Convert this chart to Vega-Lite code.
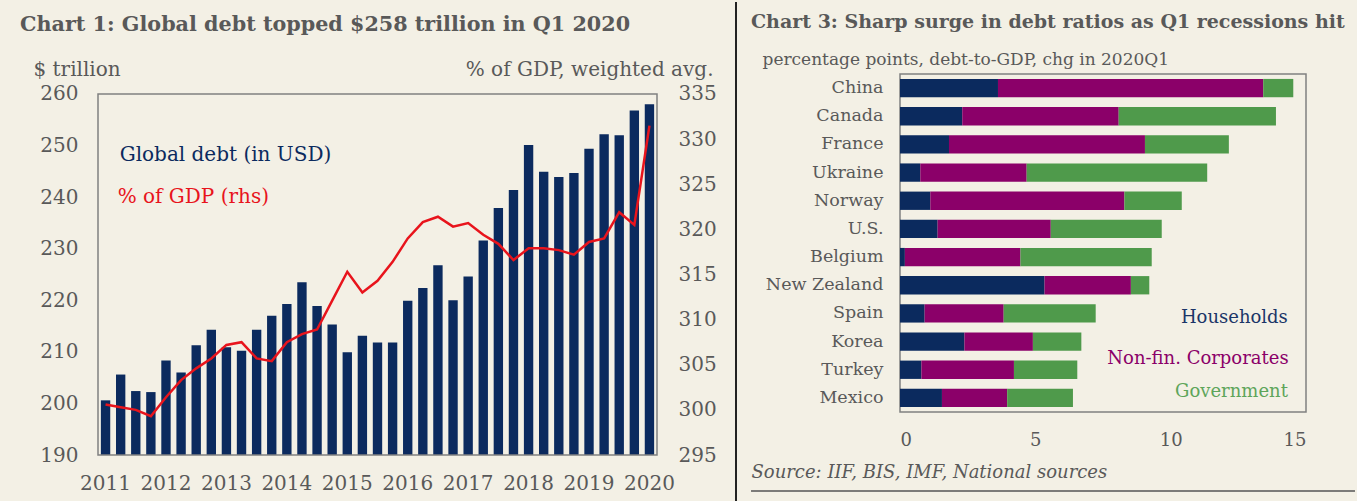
{
  "$schema": "https://vega.github.io/schema/vega-lite/v6.json",
  "autosize": {"type": "pad"},
  "padding": {"left": 20, "top": 0, "right": 0, "bottom": 0},
  "spacing": 12,
  "config": {
    "background": "#F3F0E5",
    "font": "DejaVu Serif",
    "view": {"stroke": "#808080", "strokeWidth": 1.5},
    "axis": {"labelFont": "DejaVu Serif", "titleFont": "DejaVu Serif", "labelColor": "#595959", "titleColor": "#595959", "ticks": false, "domain": false, "grid": false, "titleFontWeight": "normal"},
    "title": {"font": "DejaVu Serif", "fontWeight": "bold", "color": "#595959"}
  },
  "hconcat": [
    {
      "width": 559,
      "height": 381,
      "view": {"stroke": null},
      "title": {"text": "Chart 1: Global debt topped $258 trillion in Q1 2020", "anchor": "start", "frame": "group", "dx": -78, "offset": -35, "fontSize": 20.7},
      "data": {"values": [
        {"q": "2011Q1", "debt": 200.6, "pct": 300.6},
        {"q": "2011Q2", "debt": 205.6, "pct": 300.3},
        {"q": "2011Q3", "debt": 202.4, "pct": 300.0},
        {"q": "2011Q4", "debt": 202.2, "pct": 299.3},
        {"q": "2012Q1", "debt": 208.3, "pct": 301.4},
        {"q": "2012Q2", "debt": 206.0, "pct": 303.3},
        {"q": "2012Q3", "debt": 211.3, "pct": 304.6},
        {"q": "2012Q4", "debt": 214.3, "pct": 305.7},
        {"q": "2013Q1", "debt": 210.9, "pct": 307.2},
        {"q": "2013Q2", "debt": 210.2, "pct": 307.5},
        {"q": "2013Q3", "debt": 214.3, "pct": 305.7},
        {"q": "2013Q4", "debt": 217.0, "pct": 305.4},
        {"q": "2014Q1", "debt": 219.3, "pct": 307.5},
        {"q": "2014Q2", "debt": 223.5, "pct": 308.4},
        {"q": "2014Q3", "debt": 218.9, "pct": 308.9},
        {"q": "2014Q4", "debt": 215.3, "pct": 312.1},
        {"q": "2015Q1", "debt": 209.9, "pct": 315.3},
        {"q": "2015Q2", "debt": 213.1, "pct": 313.0},
        {"q": "2015Q3", "debt": 211.8, "pct": 314.3},
        {"q": "2015Q4", "debt": 211.8, "pct": 316.4},
        {"q": "2016Q1", "debt": 219.9, "pct": 319.0},
        {"q": "2016Q2", "debt": 222.4, "pct": 320.8},
        {"q": "2016Q3", "debt": 226.8, "pct": 321.4},
        {"q": "2016Q4", "debt": 220.0, "pct": 320.3},
        {"q": "2017Q1", "debt": 224.6, "pct": 320.7},
        {"q": "2017Q2", "debt": 231.6, "pct": 319.4},
        {"q": "2017Q3", "debt": 237.9, "pct": 318.4},
        {"q": "2017Q4", "debt": 241.4, "pct": 316.6},
        {"q": "2018Q1", "debt": 250.1, "pct": 317.9},
        {"q": "2018Q2", "debt": 244.9, "pct": 317.9},
        {"q": "2018Q3", "debt": 243.9, "pct": 317.7},
        {"q": "2018Q4", "debt": 244.7, "pct": 317.2},
        {"q": "2019Q1", "debt": 249.4, "pct": 318.6},
        {"q": "2019Q2", "debt": 252.2, "pct": 319.0},
        {"q": "2019Q3", "debt": 252.0, "pct": 321.9},
        {"q": "2019Q4", "debt": 256.8, "pct": 320.5},
        {"q": "2020Q1", "debt": 258.0, "pct": 331.5}
      ]},
      "encoding": {
        "x": {"field": "q", "type": "ordinal",
          "scale": {"paddingInner": 0, "paddingOuter": 0},
          "axis": {"values": ["2011Q1","2012Q1","2013Q1","2014Q1","2015Q1","2016Q1","2017Q1","2018Q1","2019Q1","2020Q1"], "labelExpr": "substring(datum.value, 0, 4)", "labelAngle": 0, "labelPadding": 18, "labelFontSize": 20, "title": null}}
      },
      "layer": [
        {
          "layer": [
            {
              "mark": {"type": "bar", "color": "#0B2A5E", "width": {"band": 0.62}},
              "encoding": {
                "y": {"field": "debt", "type": "quantitative",
                  "scale": {"domain": [190, 263.878], "zero": false, "nice": false},
                  "axis": {"values": [190, 200, 210, 220, 230, 240, 250, 260], "labelPadding": 20, "labelFontSize": 20, "title": "$ trillion", "titleAngle": 0, "titleAlign": "left", "titleBaseline": "middle", "titleX": -65, "titleY": -5, "titleFontSize": 20}},
                "y2": {"datum": 190}
              }
            },
            {
              "data": {"values": [{}]},
              "mark": {"type": "rect", "fill": null, "stroke": "#808080", "strokeWidth": 1.5},
              "encoding": {
                "x": {"datum": "2011Q1", "bandPosition": 0},
                "x2": {"datum": "2020Q1", "bandPosition": 1},
                "y": {"datum": 260, "type": "quantitative", "scale": {"domain": [190, 263.878], "zero": false, "nice": false}},
                "y2": {"datum": 190}
              }
            },
            {
              "data": {"values": [{"t": "Global debt (in USD)"}]},
              "mark": {"type": "text", "align": "left", "baseline": "middle", "fontSize": 20, "color": "#0B2A5E", "dx": -1},
              "encoding": {
                "text": {"field": "t"},
                "x": {"datum": "2011Q2"},
                "y": {"datum": 248.2, "type": "quantitative", "scale": {"domain": [190, 263.878], "zero": false, "nice": false}}
              }
            },
            {
              "data": {"values": [{"t": "% of GDP (rhs)"}]},
              "mark": {"type": "text", "align": "left", "baseline": "middle", "fontSize": 20, "color": "#E8141C", "dx": -3},
              "encoding": {
                "text": {"field": "t"},
                "x": {"datum": "2011Q2"},
                "y": {"datum": 240.0, "type": "quantitative", "scale": {"domain": [190, 263.878], "zero": false, "nice": false}}
              }
            },
            {
              "data": {"values": [{}]},
              "mark": {"type": "rule", "color": "#222222", "strokeWidth": 2, "xOffset": 79},
              "encoding": {
                "x": {"datum": "2020Q1", "bandPosition": 1},
                "y": {"datum": 277.84, "type": "quantitative", "scale": {"domain": [190, 263.878], "zero": false, "nice": false}},
                "y2": {"datum": 180.69}
              }
            }
          ]
        },
        {
          "mark": {"type": "line", "color": "#E8141C", "strokeWidth": 2.5},
          "encoding": {
            "y": {"field": "pct", "type": "quantitative",
              "scale": {"domain": [295, 337.216], "zero": false, "nice": false},
              "axis": {"orient": "right", "values": [295, 300, 305, 310, 315, 320, 325, 330, 335], "labelPadding": 21, "labelFontSize": 20, "title": "% of GDP, weighted avg.", "titleAngle": 0, "titleAlign": "right", "titleBaseline": "middle", "titleX": 56, "titleY": -5, "titleFontSize": 20}}
          }
        }
      ],
      "resolve": {"scale": {"y": "independent"}}
    },
    {
      "width": 406,
      "height": 338,
      "title": {"text": "Chart 3:  Sharp surge in debt ratios as Q1 recessions hit", "anchor": "start", "frame": "group", "dx": -149, "offset": 18, "fontSize": 19},
      "layer": [
        {
          "data": {"values": [
            {"country": "China", "component": "Households", "k": 1, "value": 3.62},
            {"country": "China", "component": "Non-fin. Corporates", "k": 2, "value": 9.80},
            {"country": "China", "component": "Government", "k": 3, "value": 1.11},
            {"country": "Canada", "component": "Households", "k": 1, "value": 2.30},
            {"country": "Canada", "component": "Non-fin. Corporates", "k": 2, "value": 5.78},
            {"country": "Canada", "component": "Government", "k": 3, "value": 5.81},
            {"country": "France", "component": "Households", "k": 1, "value": 1.81},
            {"country": "France", "component": "Non-fin. Corporates", "k": 2, "value": 7.24},
            {"country": "France", "component": "Government", "k": 3, "value": 3.10},
            {"country": "Ukraine", "component": "Households", "k": 1, "value": 0.75},
            {"country": "Ukraine", "component": "Non-fin. Corporates", "k": 2, "value": 3.93},
            {"country": "Ukraine", "component": "Government", "k": 3, "value": 6.67},
            {"country": "Norway", "component": "Households", "k": 1, "value": 1.12},
            {"country": "Norway", "component": "Non-fin. Corporates", "k": 2, "value": 7.17},
            {"country": "Norway", "component": "Government", "k": 3, "value": 2.12},
            {"country": "U.S.", "component": "Households", "k": 1, "value": 1.39},
            {"country": "U.S.", "component": "Non-fin. Corporates", "k": 2, "value": 4.18},
            {"country": "U.S.", "component": "Government", "k": 3, "value": 4.10},
            {"country": "Belgium", "component": "Households", "k": 1, "value": 0.18},
            {"country": "Belgium", "component": "Non-fin. Corporates", "k": 2, "value": 4.27},
            {"country": "Belgium", "component": "Government", "k": 3, "value": 4.85},
            {"country": "New Zealand", "component": "Households", "k": 1, "value": 5.34},
            {"country": "New Zealand", "component": "Non-fin. Corporates", "k": 2, "value": 3.19},
            {"country": "New Zealand", "component": "Government", "k": 3, "value": 0.68},
            {"country": "Spain", "component": "Households", "k": 1, "value": 0.91},
            {"country": "Spain", "component": "Non-fin. Corporates", "k": 2, "value": 2.92},
            {"country": "Spain", "component": "Government", "k": 3, "value": 3.40},
            {"country": "Korea", "component": "Households", "k": 1, "value": 2.38},
            {"country": "Korea", "component": "Non-fin. Corporates", "k": 2, "value": 2.53},
            {"country": "Korea", "component": "Government", "k": 3, "value": 1.79},
            {"country": "Turkey", "component": "Households", "k": 1, "value": 0.79},
            {"country": "Turkey", "component": "Non-fin. Corporates", "k": 2, "value": 3.42},
            {"country": "Turkey", "component": "Government", "k": 3, "value": 2.34},
            {"country": "Mexico", "component": "Households", "k": 1, "value": 1.55},
            {"country": "Mexico", "component": "Non-fin. Corporates", "k": 2, "value": 2.41},
            {"country": "Mexico", "component": "Government", "k": 3, "value": 2.43}
          ]},
          "mark": {"type": "bar"},
          "encoding": {
            "y": {"field": "country", "type": "nominal",
              "scale": {"domain": ["China","Canada","France","Ukraine","Norway","U.S.","Belgium","New Zealand","Spain","Korea","Turkey","Mexico"], "paddingInner": 0.35, "paddingOuter": 0.175},
              "axis": {"labelPadding": 17, "labelFontSize": 17.5, "title": "percentage points, debt-to-GDP, chg in 2020Q1", "titleAngle": 0, "titleAlign": "left", "titleBaseline": "middle", "titleX": -138, "titleY": -15, "titleFontSize": 17}},
            "x": {"field": "value", "type": "quantitative", "stack": "zero",
              "scale": {"domain": [0, 15], "nice": false},
              "axis": {"values": [0, 5, 10, 15], "labelPadding": 19, "labelFontSize": 18, "title": "Source: IIF, BIS, IMF, National sources", "titleFontStyle": "italic", "titleFontSize": 18, "titleAlign": "left", "titleBaseline": "middle", "titleX": -149, "titleY": 60}},
            "color": {"field": "component", "type": "nominal",
              "scale": {"domain": ["Households", "Non-fin. Corporates", "Government"], "range": ["#0B2A5E", "#8B0069", "#4F9A4B"]},
              "legend": null},
            "order": {"field": "k", "type": "quantitative"}
          }
        },
        {
          "data": {"values": [{"t": "Households"}]},
          "mark": {"type": "text", "align": "right", "baseline": "middle", "fontSize": 18, "color": "#1B3668", "dy": 5},
          "encoding": {
            "text": {"field": "t"},
            "x": {"datum": 14.33, "type": "quantitative", "scale": {"domain": [0, 15], "nice": false}},
            "y": {"datum": "Spain"}
          }
        },
        {
          "data": {"values": [{"t": "Non-fin. Corporates"}]},
          "mark": {"type": "text", "align": "right", "baseline": "middle", "fontSize": 18, "color": "#8B0069", "dy": 17},
          "encoding": {
            "text": {"field": "t"},
            "x": {"datum": 14.36, "type": "quantitative", "scale": {"domain": [0, 15], "nice": false}},
            "y": {"datum": "Korea"}
          }
        },
        {
          "data": {"values": [{"t": "Government"}]},
          "mark": {"type": "text", "align": "right", "baseline": "middle", "fontSize": 18, "color": "#5DA55A", "dy": -6},
          "encoding": {
            "text": {"field": "t"},
            "x": {"datum": 14.33, "type": "quantitative", "scale": {"domain": [0, 15], "nice": false}},
            "y": {"datum": "Mexico"}
          }
        },
        {
          "data": {"values": [{}]},
          "mark": {"type": "rule", "color": "#555555", "strokeWidth": 1.5, "yOffset": 93},
          "encoding": {
            "x": {"datum": -5.504, "type": "quantitative", "scale": {"domain": [0, 15], "nice": false}},
            "x2": {"datum": 16.81},
            "y": {"datum": "Mexico"}
          }
        }
      ]
    }
  ]
}
